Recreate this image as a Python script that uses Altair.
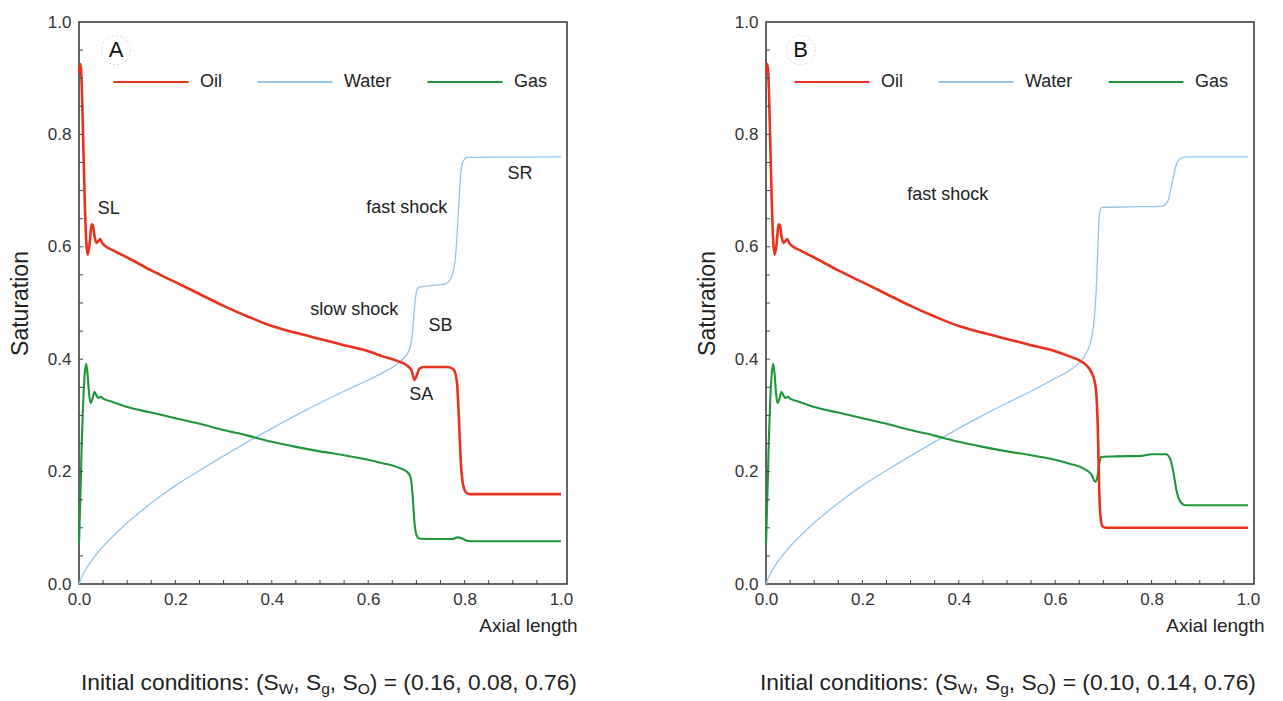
import altair as alt
import pandas as pd

FONT = "Liberation Sans"
W, H = 488, 562
XMAX = 1.0125

SERIES = ["Oil", "Water", "Gas"]
COLORS = ["#e8321e", "#96c5e8", "#1f963a"]
WIDTHS = {"Oil": 2.6, "Water": 1.3, "Gas": 2.1}

# ---------------- Panel A ----------------
A_oil_x = [0.0, 0.003, 0.006, 0.009, 0.012, 0.015, 0.018, 0.022, 0.026, 0.029, 0.032, 0.036, 0.040, 0.044,
           0.048, 0.055, 0.07, 0.1, 0.15, 0.2, 0.25, 0.3, 0.35, 0.4, 0.45, 0.5, 0.55, 0.6, 0.63, 0.66, 0.68,
           0.69, 0.696, 0.701, 0.706, 0.715, 0.74, 0.765, 0.777, 0.784, 0.788, 0.792, 0.797, 0.803, 0.81, 0.9, 1.0]
A_oil_y = [0.91, 0.925, 0.88, 0.78, 0.68, 0.61, 0.586, 0.605, 0.64, 0.638, 0.62, 0.607, 0.61, 0.614,
           0.607, 0.601, 0.594, 0.581, 0.558, 0.537, 0.516, 0.495, 0.476, 0.459, 0.447, 0.436, 0.425, 0.414, 0.405, 0.397, 0.389,
           0.38, 0.363, 0.372, 0.383, 0.386, 0.386, 0.386, 0.382, 0.36, 0.30, 0.22, 0.176, 0.163, 0.16, 0.16, 0.16]

A_gas_x = [0.0, 0.003, 0.006, 0.009, 0.012, 0.015, 0.018, 0.021, 0.024, 0.028, 0.032, 0.036, 0.04, 0.045, 0.05,
           0.07, 0.1, 0.15, 0.2, 0.25, 0.3, 0.35, 0.4, 0.45, 0.5, 0.55, 0.6, 0.63, 0.66, 0.68, 0.688, 0.692,
           0.696, 0.70, 0.706, 0.73, 0.775, 0.785, 0.795, 0.805, 0.82, 1.0]
A_gas_y = [0.07, 0.16, 0.26, 0.33, 0.375, 0.392, 0.372, 0.338, 0.322, 0.33, 0.342, 0.336, 0.331, 0.333, 0.330,
           0.324, 0.315, 0.305, 0.295, 0.285, 0.274, 0.264, 0.253, 0.244, 0.236, 0.229, 0.221, 0.215, 0.208, 0.200, 0.19, 0.16,
           0.11, 0.088, 0.081, 0.08, 0.08, 0.083, 0.081, 0.077, 0.076, 0.076]

A_wat_x = [0.0, 0.005, 0.01, 0.02, 0.03, 0.04, 0.06, 0.08, 0.1, 0.125, 0.15, 0.175, 0.2, 0.25, 0.3, 0.35, 0.4,
           0.45, 0.5, 0.55, 0.6, 0.63, 0.66, 0.675, 0.685, 0.691, 0.696, 0.70, 0.705, 0.72, 0.76, 0.772, 0.781,
           0.787, 0.792, 0.797, 0.805, 1.0]
A_wat_y = [0.0, 0.011, 0.02, 0.034, 0.046, 0.057, 0.076, 0.093, 0.109, 0.127, 0.144, 0.16, 0.175, 0.202, 0.228, 0.253, 0.277,
           0.3, 0.322, 0.343, 0.363, 0.376, 0.391, 0.403, 0.416, 0.44, 0.49, 0.52, 0.528, 0.53, 0.534, 0.545, 0.58,
           0.66, 0.73, 0.752, 0.759, 0.76]

# ---------------- Panel B ----------------
B_oil_x = [0.0, 0.003, 0.006, 0.009, 0.012, 0.015, 0.018, 0.022, 0.026, 0.029, 0.032, 0.036, 0.040, 0.044,
           0.048, 0.055, 0.07, 0.1, 0.15, 0.2, 0.25, 0.3, 0.35, 0.4, 0.45, 0.5, 0.55, 0.6, 0.63, 0.65, 0.665,
           0.675, 0.682, 0.686, 0.689, 0.691, 0.694, 0.698, 0.705, 0.8, 1.0]
B_oil_y = [0.91, 0.925, 0.88, 0.78, 0.68, 0.61, 0.586, 0.605, 0.64, 0.638, 0.62, 0.607, 0.61, 0.614,
           0.607, 0.601, 0.594, 0.581, 0.558, 0.537, 0.516, 0.495, 0.476, 0.459, 0.447, 0.436, 0.425, 0.414, 0.405, 0.398, 0.389,
           0.377, 0.36, 0.33, 0.26, 0.18, 0.12, 0.103, 0.10, 0.10, 0.10]

B_gas_x = [0.0, 0.003, 0.006, 0.009, 0.012, 0.015, 0.018, 0.021, 0.024, 0.028, 0.032, 0.036, 0.04, 0.045, 0.05,
           0.07, 0.1, 0.15, 0.2, 0.25, 0.3, 0.35, 0.4, 0.45, 0.5, 0.55, 0.6, 0.63, 0.66, 0.675, 0.683, 0.687,
           0.691, 0.695, 0.72, 0.78, 0.80, 0.83, 0.838, 0.845, 0.852, 0.86, 0.87, 1.0]
B_gas_y = [0.07, 0.16, 0.26, 0.33, 0.375, 0.392, 0.372, 0.338, 0.322, 0.33, 0.342, 0.336, 0.331, 0.333, 0.330,
           0.324, 0.315, 0.305, 0.295, 0.285, 0.274, 0.264, 0.253, 0.244, 0.236, 0.229, 0.221, 0.214, 0.205, 0.195, 0.182, 0.188,
           0.212, 0.226, 0.227, 0.228, 0.231, 0.231, 0.224, 0.20, 0.165, 0.146, 0.14, 0.14]

B_wat_x = [0.0, 0.005, 0.01, 0.02, 0.03, 0.04, 0.06, 0.08, 0.1, 0.125, 0.15, 0.175, 0.2, 0.25, 0.3, 0.35, 0.4,
           0.45, 0.5, 0.55, 0.6, 0.63, 0.65, 0.665, 0.676, 0.682, 0.686, 0.689, 0.692, 0.697, 0.75, 0.82, 0.833,
           0.843, 0.852, 0.862, 0.875, 1.0]
B_wat_y = [0.0, 0.011, 0.02, 0.034, 0.046, 0.057, 0.076, 0.093, 0.109, 0.127, 0.144, 0.16, 0.175, 0.202, 0.228, 0.253, 0.277,
           0.3, 0.322, 0.343, 0.366, 0.38, 0.394, 0.412, 0.44, 0.48, 0.54, 0.61, 0.66, 0.67, 0.671, 0.672, 0.68,
           0.715, 0.748, 0.758, 0.76, 0.76]

# ---------------- Ticks, labels, text ----------------
X_LABELS = [0.0, 0.2, 0.4, 0.6, 0.8, 1.0]
Y_LABELS = [0.0, 0.2, 0.4, 0.6, 0.8, 1.0]
MINOR_TICKS = [0.05, 0.1, 0.15, 0.2, 0.25, 0.3, 0.35, 0.4, 0.45, 0.5, 0.55, 0.6, 0.65, 0.7, 0.75,
               0.8, 0.85, 0.9, 0.95]

A_notes_text = ["SL", "fast shock", "SR", "slow shock", "SB", "SA"]
A_notes_x = [0.062, 0.68, 0.915, 0.571, 0.75, 0.71]
A_notes_y = [0.667, 0.669, 0.73, 0.487, 0.459, 0.336]
B_notes_text = ["fast shock"]
B_notes_x = [0.377]
B_notes_y = [0.692]

A_letter = ["A", 0.077, 0.95]
B_letter = ["B", 0.072, 0.95]

A_initial = "0.16, 0.08, 0.76"
B_initial = "0.10, 0.14, 0.76"

# Liberation Sans (Arial metrics) advance widths, per 1000 em
CW = {' ': 278, '(': 333, ')': 333, ',': 278, '.': 278, ':': 278, '=': 584, 'I': 278, 'S': 667,
      'W': 944, 'O': 778, 'g': 556, 'n': 556, 'i': 222, 't': 278, 'a': 556, 'l': 222, 'c': 500,
      'o': 556, 'd': 556, 's': 500}
for d in "0123456789":
    CW[d] = 556


def tw(s, size):
    return sum(CW.get(c, 556) for c in s) * size / 1000.0


def make_df(oil, wat, gas):
    rows = []
    for name, (xs, ys) in [("Water", wat), ("Gas", gas), ("Oil", oil)]:
        for a, b in zip(xs, ys):
            rows.append({"x": a, "y": b, "series": name})
    return pd.DataFrame(rows)


def panel(df, letter, notes, initial, legend_x, cap_shift):
    X = alt.X("x:Q", scale=alt.Scale(domain=[0, XMAX], nice=False, zero=False),
              axis=alt.Axis(values=X_LABELS, format=".1f", ticks=False, tickSize=0, domain=False, grid=False,
                            labelFontSize=17, labelColor="#333", labelPadding=7, labelFlush=False,
                            title="Axial length", titleFontSize=19, titleFontWeight="normal", titleColor="#222",
                            titleAlign="right", titleBaseline="middle", titleX=W + 10, titleY=41))
    Y = alt.Y("y:Q", scale=alt.Scale(domain=[0, 1], nice=False, zero=False),
              axis=alt.Axis(values=Y_LABELS, format=".1f", ticks=False, tickSize=0, domain=False, grid=False,
                            labelFontSize=17, labelColor="#333", labelPadding=8, labelFlush=False,
                            title="Saturation", titleFontSize=23, titleFontWeight="normal", titleColor="#222",
                            titleAngle=270, titleAlign="center", titleBaseline="middle",
                            titleX=-59, titleY=H / 2))
    C = alt.Color("series:N", scale=alt.Scale(domain=SERIES, range=COLORS),
                  legend=alt.Legend(orient="none", legendX=legend_x, legendY=21, direction="horizontal",
                                    title=None, symbolType="stroke", symbolSize=5625,
                                    symbolStrokeWidth=2.2, labelFontSize=18, labelColor="#222",
                                    labelOffset=10, columnPadding=31, padding=0, labelFont=FONT))

    line_layers = []
    for name in ["Water", "Gas", "Oil"]:
        line_layers.append(
            alt.Chart(df[df["series"] == name]).mark_line(interpolate="monotone", strokeWidth=WIDTHS[name])
            .encode(x=X, y=Y, color=C)
        )

    tdf = pd.DataFrame({"x": MINOR_TICKS, "y": MINOR_TICKS})
    xticks = alt.Chart(tdf).mark_rule(color="#444", strokeWidth=1).encode(
        x=X, y=alt.value(H), y2=alt.value(H - 4))
    yticks = alt.Chart(tdf).mark_rule(color="#444", strokeWidth=1).encode(
        y=Y, x=alt.value(0), x2=alt.value(4))

    ndf = pd.DataFrame({"t": notes[0], "x": notes[1], "y": notes[2]})
    note_layer = alt.Chart(ndf).mark_text(fontSize=18, color="#222", align="center", baseline="middle").encode(
        x=X, y=Y, text="t:N")

    ldf = pd.DataFrame({"t": [letter[0]], "x": [letter[1]], "y": [letter[2]]})
    circ = alt.Chart(ldf).mark_point(shape="circle", size=850, filled=False, color="#c8c8c8",
                                     strokeWidth=1, strokeDash=[2, 2]).encode(x=X, y=Y)
    let = alt.Chart(ldf).mark_text(fontSize=22, color="#111", align="center", baseline="middle").encode(
        x=X, y=Y, text="t:N")

    MAIN, SUB = 22.8, 15.5
    segs = [("Initial conditions: (S", False), ("W", True), (", S", False), ("g", True),
            (", S", False), ("O", True), (") = (" + initial + ")", False)]
    total = sum(tw(t, SUB if s else MAIN) for t, s in segs)
    px = W / 2 - total / 2 + cap_shift
    caps = []
    for t, s in segs:
        size = SUB if s else MAIN
        caps.append(alt.Chart(pd.DataFrame({"t": [t]})).mark_text(
            align="left", baseline="alphabetic", fontSize=size, color="#222").encode(
            x=alt.value(px), y=alt.value(H + 106 + (4 if s else 0)), text="t:N"))
        px += tw(t, size)

    return alt.layer(*line_layers, xticks, yticks, note_layer, circ, let, *caps).properties(width=W, height=H)


dfA = make_df((A_oil_x, A_oil_y), (A_wat_x, A_wat_y), (A_gas_x, A_gas_y))
dfB = make_df((B_oil_x, B_oil_y), (B_wat_x, B_wat_y), (B_gas_x, B_gas_y))

pA = panel(dfA, A_letter, (A_notes_text, A_notes_x, A_notes_y), A_initial, 33, 6)
pB = panel(dfB, B_letter, (B_notes_text, B_notes_x, B_notes_y), B_initial, 27, -2)

chart = alt.hconcat(pA, pB, spacing=117).resolve_scale(
    color="independent", x="independent", y="independent"
).resolve_legend(color="independent").properties(
    padding={"left": 0, "top": 4, "right": 0, "bottom": 0}
).configure(font=FONT).configure_view(stroke="#333", strokeWidth=1.5)

chart.save("out.html", embed_options={"renderer": "svg", "actions": False})
